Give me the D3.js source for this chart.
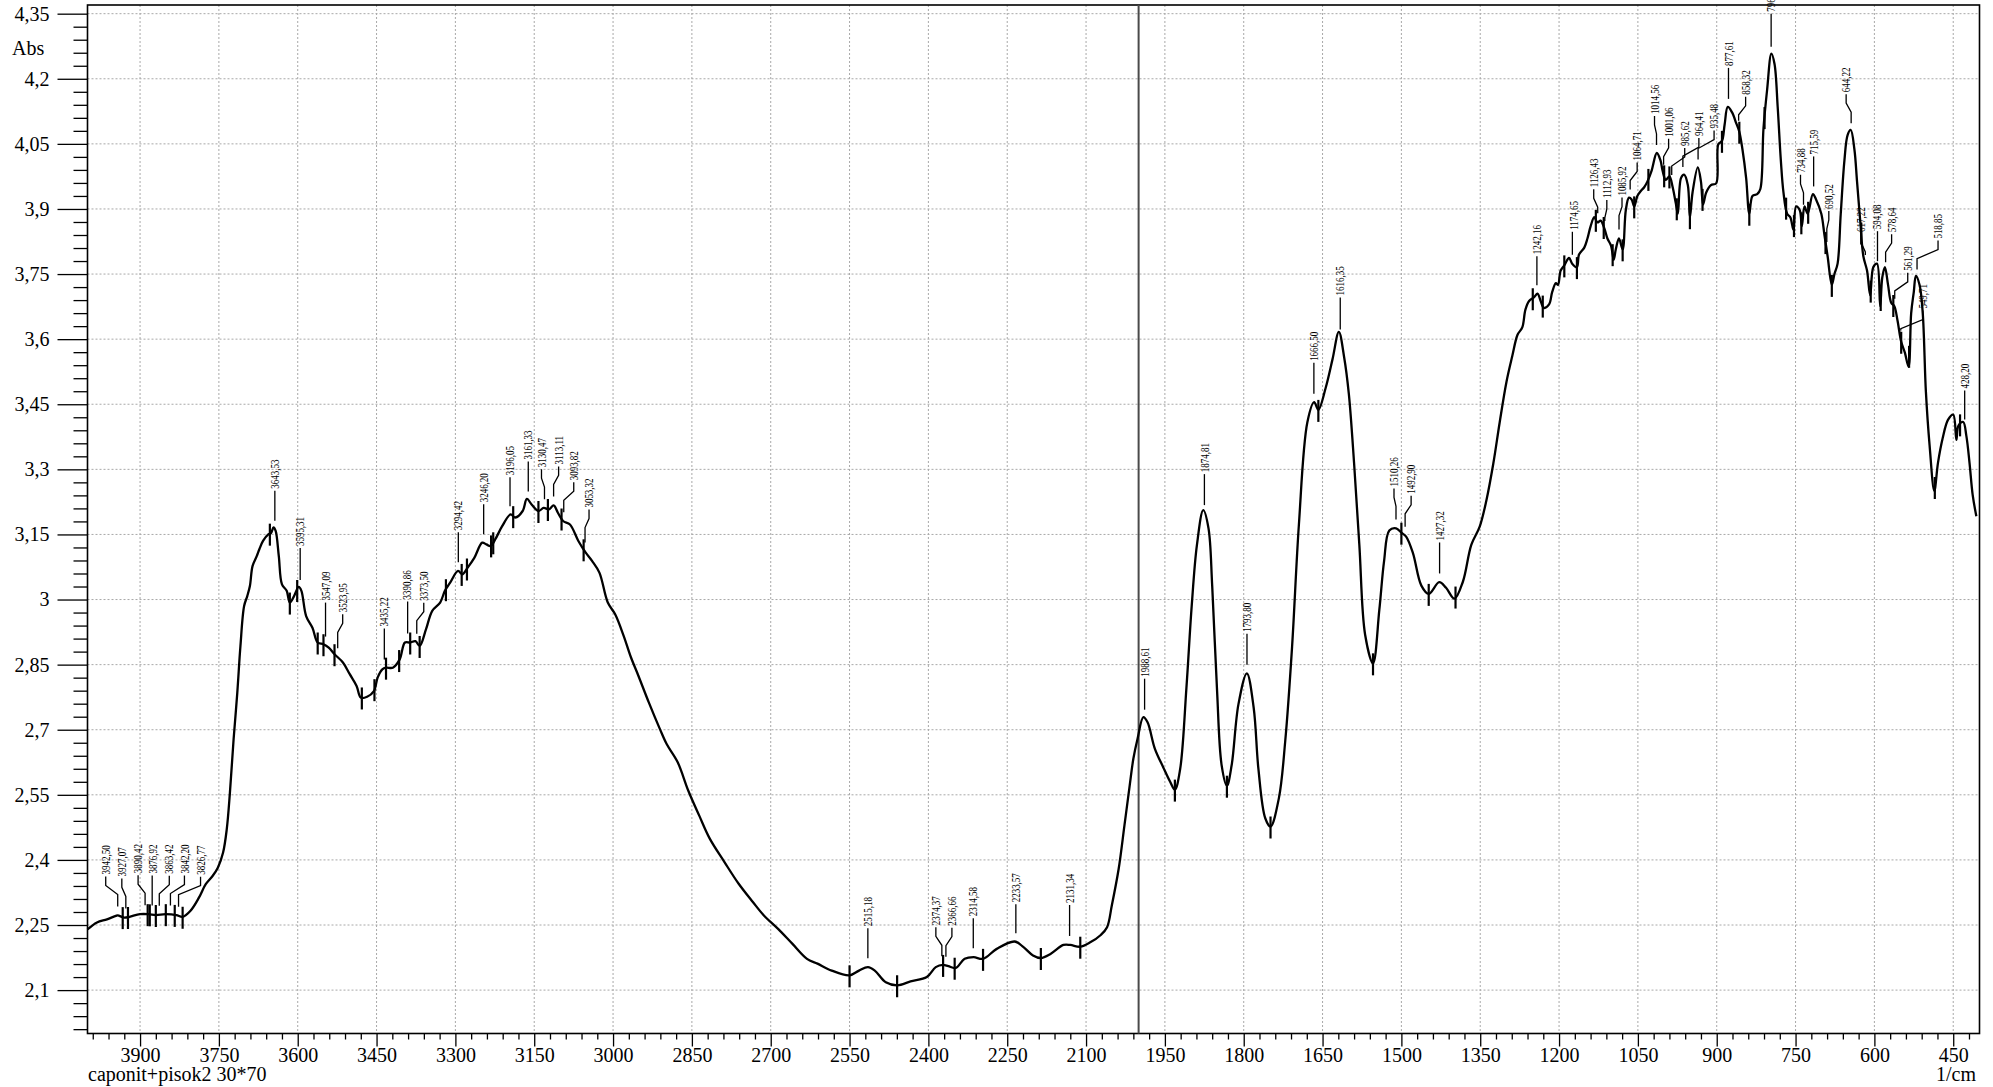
<!DOCTYPE html>
<html>
<head>
<meta charset="utf-8">
<script src="https://cdn.jsdelivr.net/npm/d3@7"></script>
<style>
  body { margin: 0; background: #fff; }
  svg  { display: block; font-family: "Liberation Serif", "Times New Roman", serif; }
</style>
</head>
<body>
<div id="chart"></div>
<script>
// FTIR spectrum: [wavenumber 1/cm, absorbance]
const spectrum = [
  [4000,2.240],[3982,2.256],[3963,2.263],[3946,2.271],[3942.5,2.272],[3930,2.267],[3920,2.269],
  [3900,2.275],[3884,2.275],[3870,2.273],[3851,2.275],[3831,2.273],[3819,2.269],[3804,2.283],
  [3788,2.313],[3775,2.344],[3762,2.363],[3752,2.382],[3742,2.417],[3735,2.471],[3729,2.555],
  [3722,2.678],[3715,2.785],[3709,2.893],[3702,2.985],[3696,3.008],[3691,3.031],[3686,3.077],
  [3678,3.100],[3673,3.116],[3666,3.135],[3656,3.150],[3651,3.153],[3646,3.166],[3642,3.158],
  [3636,3.100],[3630,3.035],[3621,3.020],[3615,2.993],[3607,3.008],[3598,3.029],[3593,3.020],
  [3584,2.962],[3572,2.935],[3562,2.901],[3551,2.897],[3541,2.889],[3530,2.874],[3514,2.855],
  [3501,2.828],[3488,2.801],[3480,2.774],[3468,2.776],[3455,2.789],[3448,2.820],[3439,2.839],
  [3432,2.843],[3419,2.843],[3406,2.862],[3396,2.901],[3386,2.901],[3376,2.904],[3368,2.893],
  [3356,2.931],[3344,2.974],[3329,2.993],[3320,3.020],[3310,3.039],[3295,3.066],[3287,3.058],
  [3277,3.073],[3264,3.096],[3249,3.131],[3241,3.127],[3233,3.123],[3224,3.139],[3211,3.169],
  [3195,3.196],[3186,3.189],[3172,3.204],[3164,3.232],[3155,3.219],[3142,3.204],[3132,3.211],
  [3122,3.208],[3113,3.217],[3105,3.200],[3095,3.181],[3082,3.173],[3066,3.135],[3052,3.108],
  [3040,3.089],[3026,3.062],[3010,2.993],[2996,2.966],[2980,2.917],[2966,2.867],[2952,2.825],
  [2932,2.763],[2911,2.702],[2898,2.667],[2877,2.625],[2857,2.560],[2836,2.502],[2816,2.449],
  [2788,2.395],[2761,2.345],[2734,2.303],[2713,2.272],[2686,2.241],[2659,2.207],[2631,2.172],
  [2611,2.161],[2584,2.145],[2550,2.134],[2532,2.145],[2515,2.153],[2502,2.145],[2481,2.118],
  [2459,2.111],[2434,2.120],[2403,2.130],[2386,2.153],[2372,2.158],[2362,2.155],[2348,2.151],
  [2331,2.172],[2314,2.176],[2296,2.172],[2270,2.195],[2236,2.212],[2219,2.199],[2201,2.180],
  [2186,2.174],[2167,2.184],[2143,2.204],[2130,2.204],[2111,2.200],[2092,2.210],[2072,2.227],
  [2060,2.245],[2051,2.295],[2038,2.379],[2027,2.479],[2017,2.571],[2010,2.633],[2002,2.679],
  [1991,2.729],[1983,2.717],[1969,2.656],[1953,2.613],[1940,2.580],[1931,2.562],[1921,2.609],
  [1909,2.797],[1899,2.985],[1889,3.126],[1877,3.206],[1867,3.164],[1860,3.032],[1851,2.797],
  [1842,2.618],[1832,2.571],[1823,2.618],[1810,2.759],[1794,2.830],[1781,2.750],[1772,2.609],
  [1759,2.496],[1749,2.477],[1733,2.543],[1721,2.674],[1708,2.891],[1695,3.173],[1679,3.408],
  [1666,3.455],[1658,3.437],[1644,3.488],[1631,3.554],[1619,3.617],[1609,3.559],[1600,3.474],
  [1590,3.314],[1580,3.126],[1569,2.919],[1554,2.853],[1542,2.976],[1533,3.088],[1523,3.159],
  [1510,3.164],[1500,3.154],[1491,3.145],[1478,3.107],[1462,3.032],[1448,3.013],[1428,3.040],
  [1415,3.027],[1399,3.002],[1383,3.041],[1367,3.126],[1351,3.168],[1338,3.230],[1325,3.314],
  [1313,3.408],[1300,3.502],[1289,3.561],[1279,3.610],[1270,3.627],[1264,3.668],[1257,3.688],
  [1248,3.696],[1241,3.705],[1235,3.688],[1229,3.672],[1219,3.680],[1213,3.709],[1206,3.729],
  [1202,3.725],[1197,3.758],[1190,3.770],[1181,3.787],[1175,3.774],[1166,3.766],[1162,3.795],
  [1152,3.811],[1146,3.832],[1140,3.860],[1133,3.881],[1127,3.869],[1121,3.873],[1114,3.856],
  [1108,3.832],[1101,3.815],[1096,3.783],[1092,3.807],[1086,3.832],[1079,3.807],[1073,3.897],
  [1067,3.926],[1062,3.922],[1057,3.906],[1051,3.930],[1044,3.942],[1038,3.950],[1032,3.963],
  [1024,3.988],[1014,4.029],[1007,4.012],[1003,3.988],[997,3.967],[990,3.975],[984,3.951],
  [978,3.914],[974,3.889],[968,3.971],[962,3.979],[955,3.955],[951,3.881],[946,3.938],
  [936,3.996],[930,3.963],[926,3.910],[920,3.938],[911,3.955],[901,3.959],[897,4.049],
  [890,4.057],[885,4.094],[879,4.135],[871,4.123],[863,4.098],[857,4.078],[851,4.037],
  [844,3.971],[838,3.889],[832,3.930],[823,3.934],[817,3.946],[811,4.086],[804,4.176],
  [796,4.258],[790,4.234],[784,4.135],[778,4.012],[773,3.938],[766,3.889],[760,3.881],
  [754,3.852],[749,3.906],[742,3.897],[738,3.860],[733,3.906],[727,3.889],[717,3.934],
  [711,3.922],[701,3.889],[695,3.840],[689,3.791],[681,3.725],[676,3.750],[670,3.774],
  [664,3.889],[657,4.012],[651,4.070],[645,4.082],[638,4.037],[633,3.963],[627,3.873],
  [621,3.791],[614,3.758],[608,3.701],[602,3.766],[595,3.774],[589,3.676],[585,3.742],
  [580,3.766],[574,3.725],[568,3.684],[562,3.676],[556,3.643],[549,3.594],[542,3.569],
  [535,3.537],[530,3.660],[525,3.709],[521,3.746],[514,3.725],[508,3.660],[502,3.479],
  [495,3.356],[486,3.250],[479,3.315],[470,3.372],[460,3.414],[450,3.426],[444,3.368],
  [440,3.401],[431,3.409],[425,3.377],[419,3.315],[413,3.241],[406,3.192]
];

// labelled peaks (1/cm)
const peakWn = [
  3942.50, 3927.07, 3890.42, 3876.92, 3863.42, 3842.20, 3826.77,
  3643.53, 3595.31, 3547.09, 3523.95, 3435.22, 3390.86, 3373.50, 3294.42, 3246.20,
  3196.05, 3161.33, 3130.47, 3113.11, 3093.82, 3053.32,
  2515.18, 2374.37, 2366.66, 2314.58, 2233.57, 2131.34,
  1988.61, 1874.81, 1793.80, 1666.50, 1616.35, 1510.26, 1492.90, 1427.32,
  1242.16, 1174.65, 1126.43, 1112.93, 1085.92, 1064.71, 1014.56, 1001.06, 985.62, 964.41, 935.48,
  877.61, 858.32, 796.46, 734.88, 715.59, 690.52, 644.22, 617.22, 594.08, 578.64, 561.29,
  549.71, 518.85, 428.20
];

// baseline marks drawn across the trace (1/cm)
const markWn = [
  3933, 3923, 3885.5, 3881.5, 3870, 3851, 3834, 3819, 3653, 3615, 3601, 3562, 3551, 3530,
  3478, 3454, 3432, 3407, 3386, 3368, 3318, 3288, 3278, 3232, 3228, 3190, 3142, 3124, 3098, 3056,
  2550, 2459.5, 2372, 2350, 2296, 2186, 2111,
  1931, 1832, 1749, 1658, 1554, 1500, 1448, 1397, 1250, 1231, 1190, 1166,
  1130, 1115, 1098, 1079, 1057, 1030, 1000, 990, 976, 951, 927, 890, 857, 838, 809,
  768, 753, 739, 726, 693, 681, 625, 607, 588, 564, 549, 534, 485, 437
];

const xTicks = [3900, 3750, 3600, 3450, 3300, 3150, 3000, 2850, 2700, 2550, 2400, 2250,
                2100, 1950, 1800, 1650, 1500, 1350, 1200, 1050, 900, 750, 600, 450];
const yTicks = [2.1, 2.25, 2.4, 2.55, 2.7, 2.85, 3, 3.15, 3.3, 3.45, 3.6, 3.75, 3.9, 4.05, 4.2, 4.35];

// label placement: [horizontal shift px, gap above trace px]
const labelShift = [
  [-12,41],[-4,41],[-7,41],[1,41],[10,41],[14,41],[22,41],
  [0,41],[0,43],[0,45],[5,45],[0,42],[-1,43],[7,42],[0,41],[0,41],
  [0,40],[0,41],[-3,41],[5,41],[10,41],[4,44],
  [0,41],[-6,40],[6,40],[0,41],[0,40],[0,42],
  [0,42],[0,42],[0,42],[0,42],[0,43],[-2,42],[6,42],[0,42],
  [0,40],[1,34],[-4,35],[2,32],[3,43],[7,38],[-2,40],[5,37],[13,38],[16,40],[16,40],
  [0,42],[7,35],[0,44],[-3,41],[0,41],[2,42],[-5,40],[-4,32],[-1,41],[6,39],[13,37],
  [22,31],[21,40],[0,40]
];

const W = 1993, H = 1087;
const plotL = 87.5, plotR = 1979.5, plotT = 5, plotB = 1033.5;

const svg = d3.select('#chart').append('svg')
  .attr('width', W).attr('height', H);

const x = d3.scaleLinear().domain([4000, 400]).range([plotL, plotR]);
const y = d3.scaleLinear().domain([2.0, 4.37]).range([plotB, plotT]);

const commaFmt = d3.formatLocale({ decimal: ',', thousands: '.', grouping: [3], currency: ['', ''] });
const yFmt = commaFmt.format('~g');
const peakFmt = commaFmt.format('.2f');

// absorbance at any wavenumber, linear between read points
const asc = spectrum.slice().sort((a, b) => a[0] - b[0]);
const bis = d3.bisector(d => d[0]).left;
function absAt(wn) {
  const i = Math.max(1, Math.min(asc.length - 1, bis(asc, wn)));
  const a = asc[i - 1], b = asc[i];
  return a[1] + (b[1] - a[1]) * (wn - a[0]) / (b[0] - a[0]);
}

// -- grid -------------------------------------------------------------
const grid = svg.append('g').attr('stroke', '#a8a8a8').attr('stroke-width', 1)
  .attr('stroke-dasharray', '2,2');
grid.selectAll('.gx').data(xTicks).join('line')
  .attr('x1', d => x(d)).attr('x2', d => x(d)).attr('y1', plotT).attr('y2', plotB);
grid.selectAll('.gy').data(yTicks).join('line')
  .attr('x1', plotL).attr('x2', plotR).attr('y1', d => y(d)).attr('y2', d => y(d));

// -- axes -------------------------------------------------------------
const xMinor = d3.range(0, 120).map(i => 3990 - i * 30).filter(v => v >= 410 && v % 150 !== 0);
const yMinor = d3.range(0, 79).map(i => +(2.01 + i * 0.03).toFixed(2))
  .filter(v => !yTicks.some(t => Math.abs(t - v) < 1e-6));

function styleAxis(g) {
  g.select('.domain').remove();
  g.selectAll('line').attr('stroke', '#000').attr('stroke-width', 1.3);
  g.selectAll('text').attr('fill', '#000').style('font-size', '20px')
    .style('font-family', '"Liberation Serif", serif');
}

svg.append('g').attr('transform', `translate(0,${plotB})`)
  .call(d3.axisBottom(x).tickValues(xMinor).tickSize(6).tickFormat(''))
  .call(styleAxis);
svg.append('g').attr('transform', `translate(0,${plotB})`)
  .call(d3.axisBottom(x).tickValues(xTicks).tickSize(13).tickPadding(1).tickFormat(d3.format('d')))
  .call(styleAxis);

svg.append('g').attr('transform', `translate(${plotL},0)`)
  .call(d3.axisLeft(y).tickValues(yMinor).tickSize(14).tickFormat(''))
  .call(styleAxis);
svg.append('g').attr('transform', `translate(${plotL},0)`)
  .call(d3.axisLeft(y).tickValues(yTicks).tickSize(30).tickPadding(8).tickFormat(yFmt))
  .call(styleAxis);

// -- frame + 2000 marker --------------------------------------------------
svg.append('rect')
  .attr('x', plotL).attr('y', plotT).attr('width', plotR - plotL).attr('height', plotB - plotT)
  .attr('fill', 'none').attr('stroke', '#000').attr('stroke-width', 1.6);

svg.append('line')
  .attr('x1', x(2000)).attr('x2', x(2000)).attr('y1', plotT).attr('y2', plotB)
  .attr('stroke', '#4a4a4a').attr('stroke-width', 2);

// -- trace ------------------------------------------------------------
const line = d3.line()
  .x(d => x(d[0])).y(d => y(d[1]))
  .curve(d3.curveCatmullRom.alpha(0.5));

svg.append('path')
  .datum(spectrum)
  .attr('d', line)
  .attr('fill', 'none').attr('stroke', '#000').attr('stroke-width', 2.3)
  .attr('stroke-linejoin', 'round');

// baseline marks
svg.append('g').selectAll('line').data(markWn).join('line')
  .attr('x1', d => x(d)).attr('x2', d => x(d))
  .attr('y1', d => y(absAt(d)) - 10).attr('y2', d => y(absAt(d)) + 12)
  .attr('stroke', '#000').attr('stroke-width', 2.2);

// -- peak labels with leaders -------------------------------------------
const lab = svg.append('g');
peakWn.forEach((wn, i) => {
  const [dx, rise] = labelShift[i];
  const px = x(wn), py = y(absAt(wn));
  const lx = px + dx, yb = py - rise;
  const yEnd = py - 9;
  const pts = Math.abs(dx) < 1.5
    ? [[px, yb + 2], [px, yEnd]]
    : [[lx, yb + 2], [lx, yb + 11], [px, yb + 20], [px, Math.max(yEnd, yb + 21)]];
  lab.append('path')
    .attr('d', d3.line()(pts))
    .attr('fill', 'none').attr('stroke', '#000').attr('stroke-width', 1.3);
  lab.append('text')
    .attr('transform', `translate(${lx},${yb}) rotate(-90) scale(0.78,1)`)
    .attr('dy', '0.36em')
    .style('font-size', '11.5px')
    .attr('fill', '#000')
    .text(peakFmt(wn));
});

// -- texts --------------------------------------------------------------
svg.append('text').attr('x', 12).attr('y', 55).style('font-size', '20px').text('Abs');
svg.append('text').attr('x', 88).attr('y', 1081).style('font-size', '20px')
  .text('caponit+pisok2 30*70');
svg.append('text').attr('x', 1976).attr('y', 1081).attr('text-anchor', 'end')
  .style('font-size', '20px').text('1/cm');
</script>
</body>
</html>
